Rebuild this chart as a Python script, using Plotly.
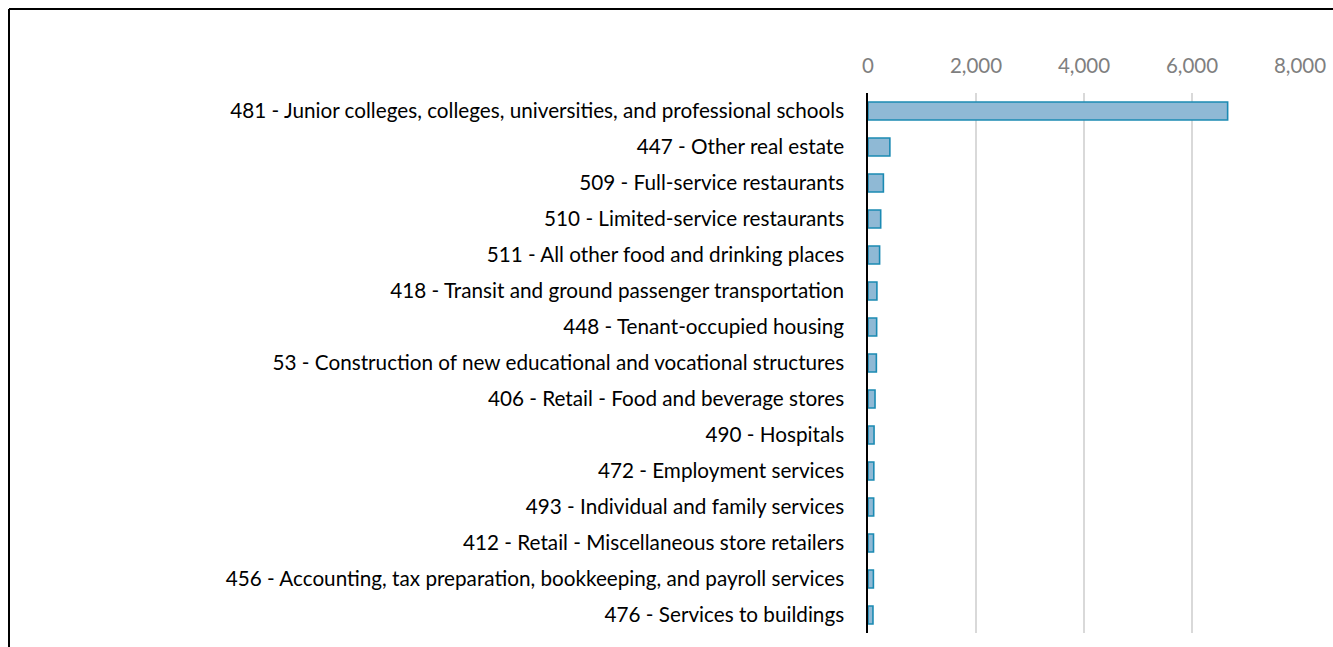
import plotly.graph_objects as go

categories = [
    "481 - Junior colleges, colleges, universities, and professional schools",
    "447 - Other real estate",
    "509 - Full-service restaurants",
    "510 - Limited-service restaurants",
    "511 - All other food and drinking places",
    "418 - Transit and ground passenger transportation",
    "448 - Tenant-occupied housing",
    "53 - Construction of new educational and vocational structures",
    "406 - Retail - Food and beverage stores",
    "490 - Hospitals",
    "472 - Employment services",
    "493 - Individual and family services",
    "412 - Retail - Miscellaneous store retailers",
    "456 - Accounting, tax preparation, bookkeeping, and payroll services",
    "476 - Services to buildings",
]
values = [6660, 405, 285, 235, 215, 165, 160, 155, 130, 112, 108, 105, 102, 100, 92]
tick_vals = [0, 2000, 4000, 6000, 8000]
tick_text = ["0", "2,000", "4,000", "6,000", "8,000"]

W, H = 1333, 647
L, T = 868, 93
R = W - 1300
B = H - 633

fig = go.Figure(go.Bar(
    x=values, y=categories, orientation="h",
    marker=dict(color="#8fb9d5", line=dict(color="#1b8ab3", width=1.6)),
    width=0.5,
))

fig.update_layout(
    width=W, height=H,
    margin=dict(l=L, r=R, t=T, b=B, autoexpand=False),
    paper_bgcolor="white", plot_bgcolor="white",
    showlegend=False,
    font=dict(family="Lato, Calibri, sans-serif", size=20.7, color="#000000"),
    xaxis=dict(
        side="top", range=[0, 8000], tickvals=tick_vals, ticktext=tick_text,
        showgrid=True, gridcolor="#d9d9d9", gridwidth=1.5,
        zeroline=False, showline=False, ticks="", automargin=False,
        tickfont=dict(color="#7f7f7f", size=20.5), ticklabelstandoff=15,
    ),
    yaxis=dict(
        autorange="reversed", showgrid=False, zeroline=False, automargin=False,
        showline=True, linecolor="#000000", linewidth=1.5, ticks="",
        ticklabelstandoff=18, tickfont=dict(color="#000000", size=20.7),
    ),
    shapes=[
        dict(type="line", xref="paper", yref="paper",
             xsizemode="pixel", ysizemode="pixel", xanchor=0, yanchor=1,
             x0=9 - L, x1=9 - L, y0=T - 9, y1=-(H + 50),
             line=dict(color="black", width=2)),
        dict(type="line", xref="paper", yref="paper",
             xsizemode="pixel", ysizemode="pixel", xanchor=0, yanchor=1,
             x0=9 - L, x1=W, y0=T - 9, y1=T - 9,
             line=dict(color="black", width=2)),
    ],
)

fig.write_html(
    "out.html",
    config={"displayModeBar": False},
    post_script="document.body.style.margin='0';document.body.style.overflow='hidden';",
)
